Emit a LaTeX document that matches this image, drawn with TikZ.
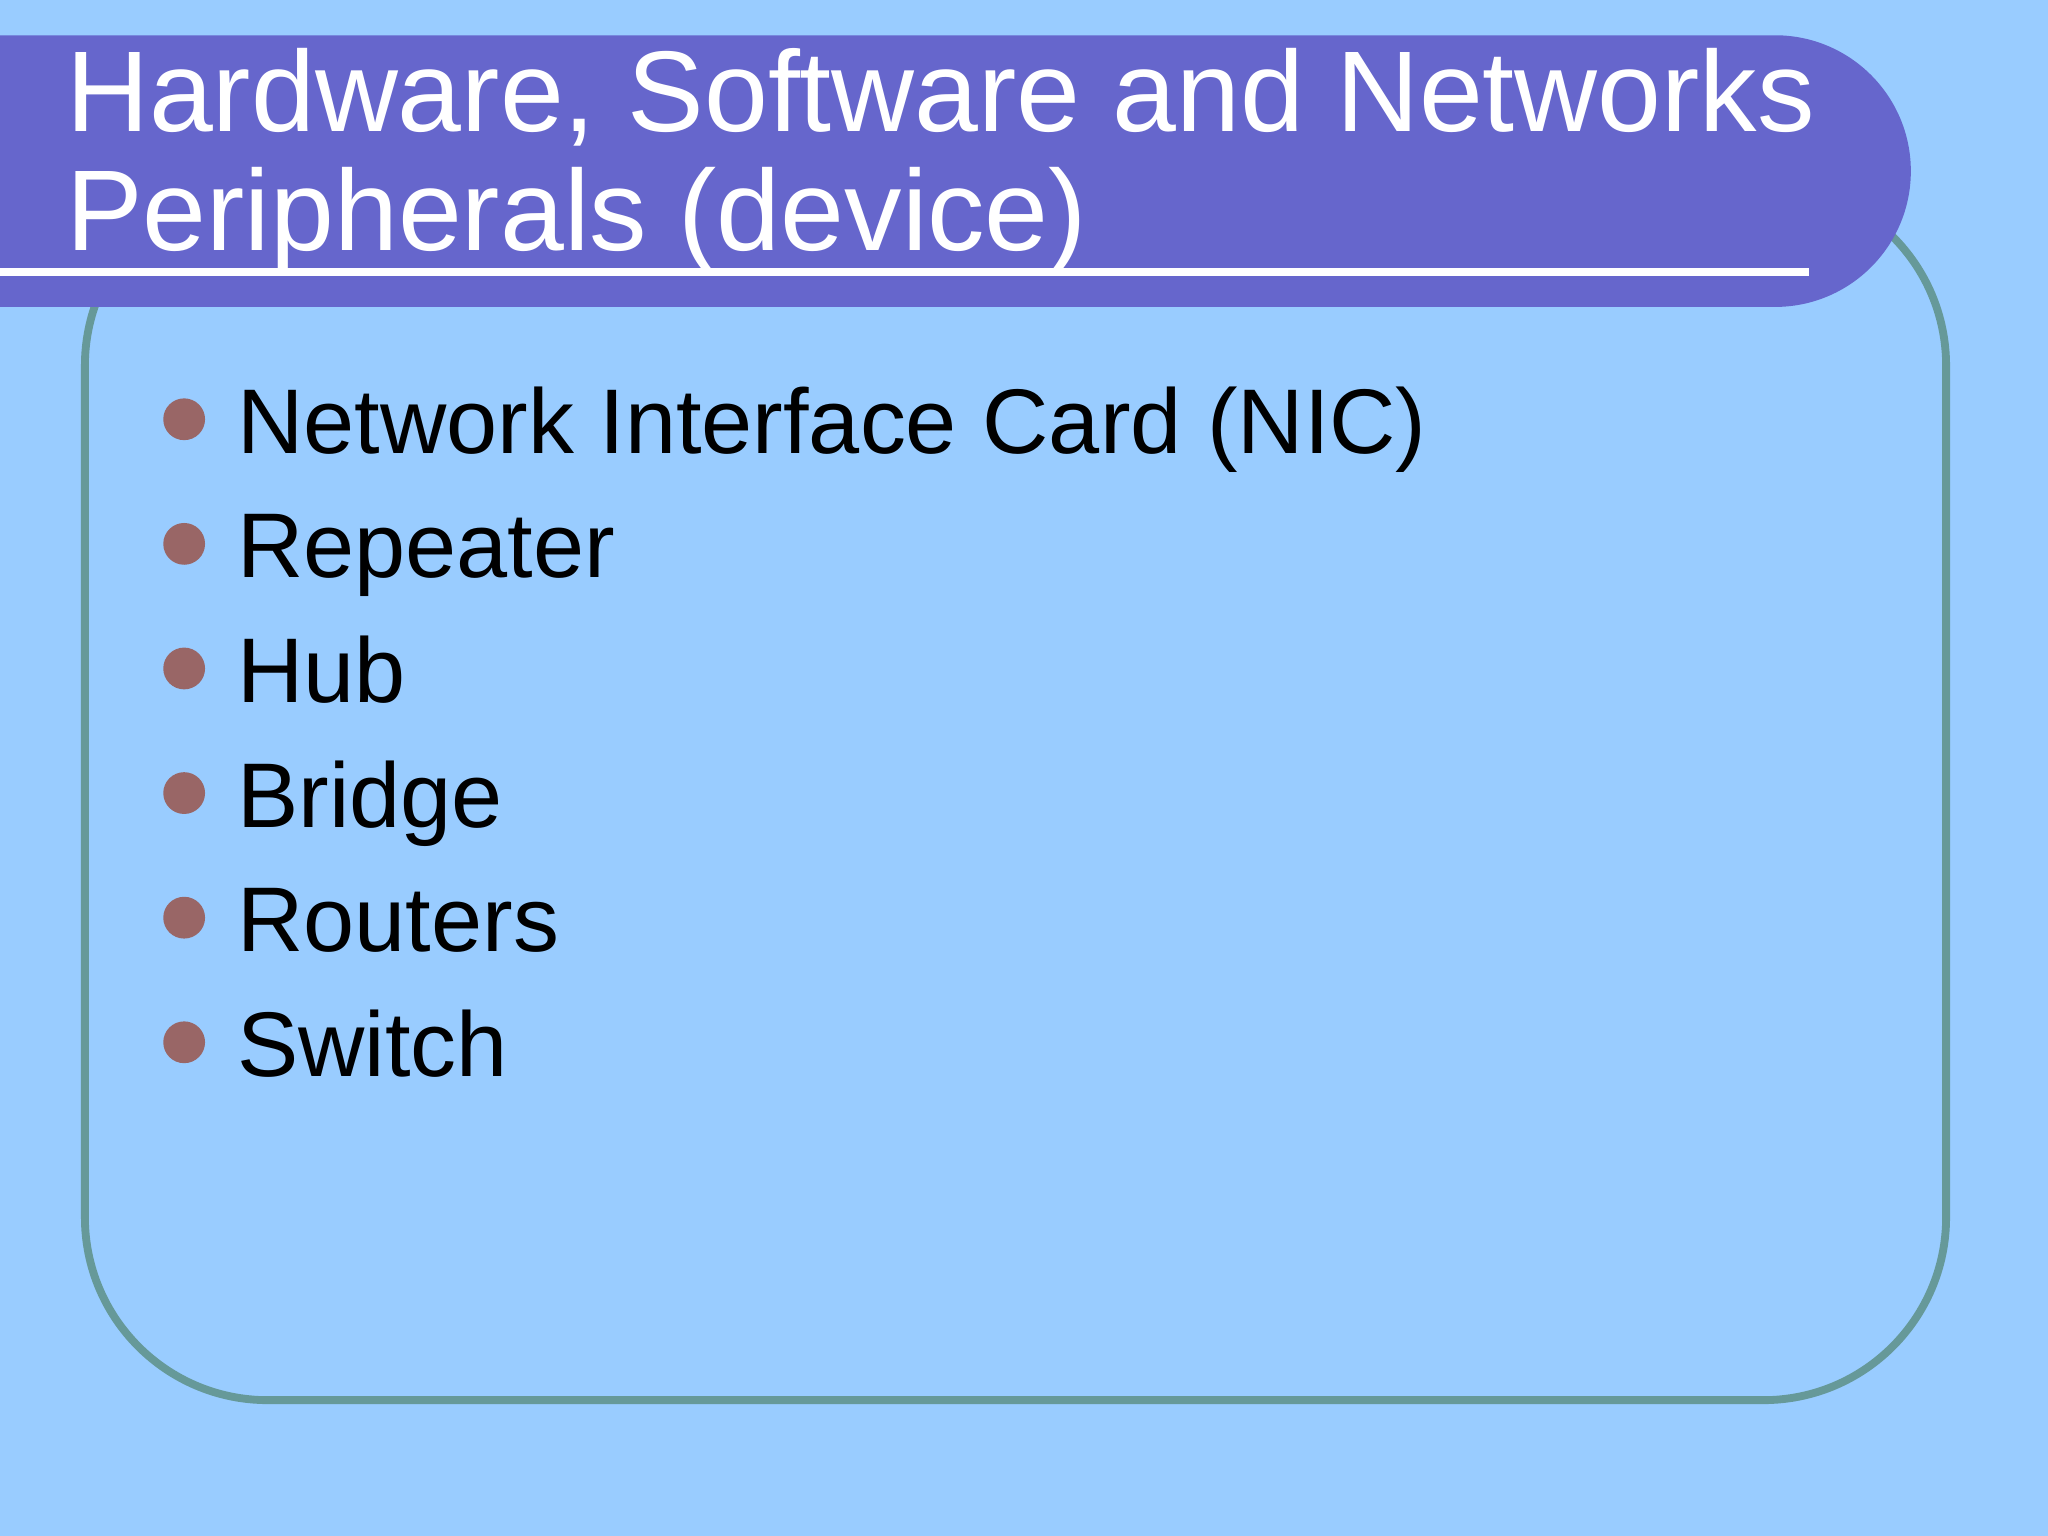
\documentclass[tikz,border=0pt]{standalone}
\usepackage{fontspec}
\setmainfont{Liberation Sans}
\definecolor{bg}{RGB}{153,204,255}
\definecolor{frame}{RGB}{102,153,153}
\definecolor{banner}{RGB}{102,102,204}
\definecolor{dot}{RGB}{153,102,102}
\tikzset{
  title/.style={anchor=base west,inner sep=0pt,text=white,font=\fontsize{25}{30}\selectfont},
  item/.style={anchor=base west,inner sep=0pt,text=black,font=\fontsize{20}{24}\selectfont},
  bul/.style={circle,fill=dot,minimum size=32*0.01cm,inner sep=0pt}
}
\begin{document}
\begin{tikzpicture}[x=0.01cm,y=0.01cm]
\fill[bg] (0,0) rectangle (1568,-1176);
\useasboundingbox (0,0) rectangle (1568,-1176);
\draw[frame,line width=6*0.01cm,rounded corners=140*0.01cm] (65,-140) rectangle (1490,-1072);
\fill[banner] (0,-27) -- (1359,-27) arc[start angle=90,end angle=-90,radius=104] -- (0,-235) -- cycle;
\fill[white] (0,-205.5) rectangle (1385,-211);
\node[title] (t1) at (50,-101) {Hardware, Software and Networks};
\node[title] (t2) at (50,-192) {Peripherals (device)};
\foreach \t [count=\i] in {Network Interface Card (NIC),Repeater,Hub,Bridge,Routers,Switch}{
  \node[bul] (b\i) at (141,{-321-95.4*(\i-1)}) {};
  \node[item] (i\i) at (181,{-347-95.4*(\i-1)}) {\t};
}
\end{tikzpicture}
\end{document}
